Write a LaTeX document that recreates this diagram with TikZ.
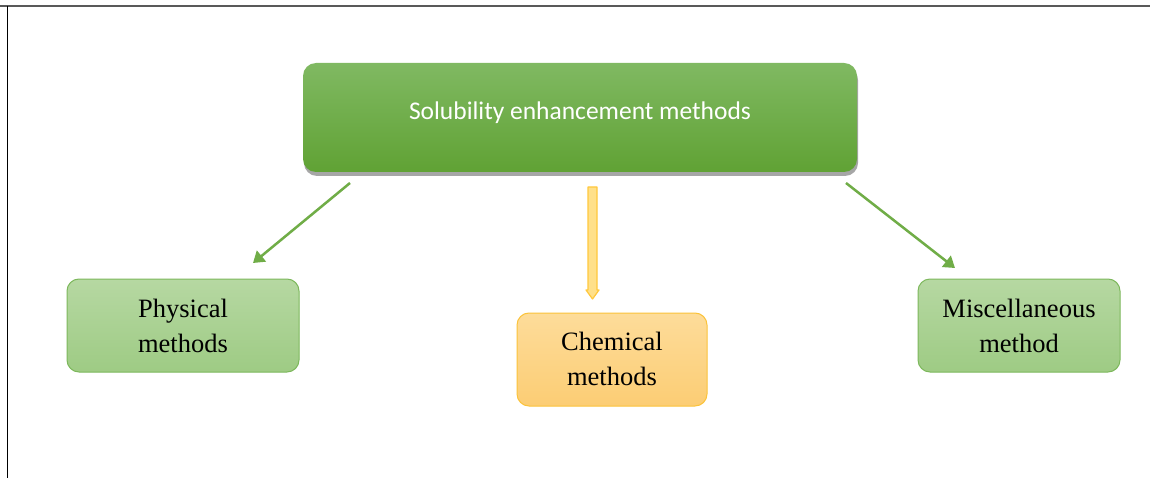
\documentclass[tikz,border=0pt]{standalone}
\usepackage{fontspec}
\setmainfont{Liberation Serif}
\newfontfamily\calibri{Carlito}
\usetikzlibrary{arrows.meta,shadows,calc}
\definecolor{topgreen}{HTML}{80B962}
\definecolor{botgreen}{HTML}{60A234}
\definecolor{lgtop}{HTML}{B6D8A2}
\definecolor{lgbot}{HTML}{9ECB84}
\definecolor{lgborder}{HTML}{7DB85C}
\definecolor{ortop}{HTML}{FDDC9A}
\definecolor{orbot}{HTML}{FCCD74}
\definecolor{orborder}{HTML}{FBC33A}
\definecolor{arrgreen}{HTML}{70AD47}
\definecolor{arryel}{HTML}{FFC83D}
\definecolor{arrfill}{HTML}{FFE08A}
\tikzset{
  mainbox/.style={rounded corners=13pt, top color=topgreen, bottom color=botgreen,
    draw=none, minimum width=554pt, minimum height=109pt,
    drop shadow={shadow xshift=1pt, shadow yshift=-4pt, opacity=0.35, fill=black},
    font=\calibri\fontsize{25.5}{30}\selectfont, text=white},
  greenbox/.style={rounded corners=12pt, top color=lgtop, bottom color=lgbot,
    draw=lgborder, line width=1pt, align=center,
    font=\fontsize{26.5}{35}\selectfont, text=black},
  orangebox/.style={rounded corners=12pt, top color=ortop, bottom color=orbot,
    draw=orborder, line width=1pt, align=center,
    font=\fontsize{26.5}{35}\selectfont, text=black},
  garrow/.style={draw=arrgreen, line width=2.5pt, -{Triangle[length=11pt,width=14pt]}},
}
\begin{document}
\begin{tikzpicture}[x=1pt,y=-1pt]
\useasboundingbox (0,0) rectangle (1150,478);
\fill[white] (0,0) rectangle (1150,478);
\draw[gray!70!black, line width=2pt] (0,6) -- (1150,6);
\draw[black, line width=1pt] (7.5,6) -- (7.5,478);

\node[mainbox] (main) at (580,117.5) {\raisebox{14pt}{Solubility enhancement methods}};
\node[greenbox, minimum width=232pt, minimum height=93pt] (phys) at (183,325.5) {Physical\\methods};
\node[orangebox, minimum width=190pt, minimum height=93pt] (chem) at (612,359.5) {\raisebox{2pt}{Chemical}\\\raisebox{2pt}{methods}};
\node[greenbox, minimum width=202pt, minimum height=93pt] (misc) at (1019,325.5) {Miscellaneous\\method};

\coordinate (a1s) at (350,183);
\coordinate (a1e) at (253,263);
\coordinate (a3s) at (846,183);
\coordinate (a3e) at (955,268);
\coordinate (a2s) at (592.5,187);
\coordinate (a2e) at (592.5,299);

\draw[garrow] (a1s) -- (a1e);
\draw[garrow] (a3s) -- (a3e);
% hollow block arrow (outline + fill)
\draw[arryel, line width=1.2pt, fill=arrfill, line join=round]
  ($(a2s)+(-4.5,0)$) -- ($(a2e)+(-4.5,-9)$) -- ($(a2e)+(-6.5,-9)$) -- (a2e)
  -- ($(a2e)+(6.5,-9)$) -- ($(a2e)+(4.5,-9)$) -- ($(a2s)+(4.5,0)$) -- cycle;
\end{tikzpicture}
\end{document}
